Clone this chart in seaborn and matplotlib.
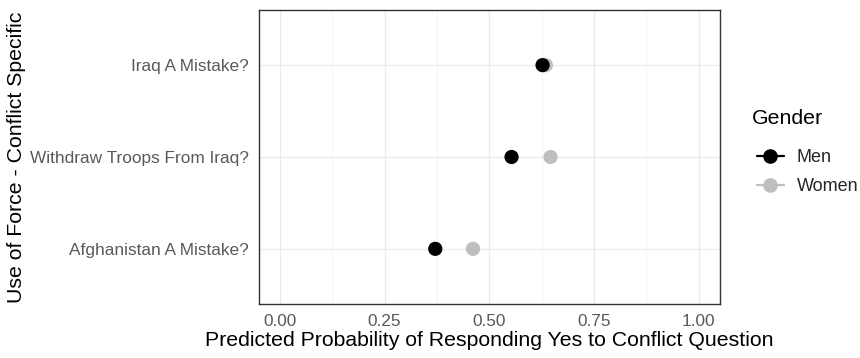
import matplotlib
matplotlib.use("Agg")
import matplotlib.pyplot as plt
import seaborn as sns
import pandas as pd
from matplotlib.lines import Line2D
from matplotlib.ticker import MultipleLocator

questions = ["Afghanistan A Mistake?", "Withdraw Troops From Iraq?", "Iraq A Mistake?"]
men = [0.371, 0.553, 0.627]
women = [0.461, 0.646, 0.635]
genders = ["Men", "Women"]
colors = {"Men": "#000000", "Women": "#BEBEBE"}
x_ticks = [0.0, 0.25, 0.5, 0.75, 1.0]
x_ticklabels = ["0.00", "0.25", "0.50", "0.75", "1.00"]

rows = []
for q, m, w in zip(questions, men, women):
    rows.append({"question": q, "gender": "Women", "prob": w})
for q, m, w in zip(questions, men, women):
    rows.append({"question": q, "gender": "Men", "prob": m})
df = pd.DataFrame(rows)

sns.set_theme(style="white")
plt.rcParams['font.family'] = ['Liberation Sans', 'DejaVu Sans']

fig = plt.figure(figsize=(8.6, 3.58), dpi=100)
ax = fig.add_axes([0.301, 0.151, 0.536, 0.821])

pos = {q: i for i, q in enumerate(questions)}
df["ypos"] = df["question"].map(pos)

sns.scatterplot(data=df, x="prob", y="ypos", hue="gender", palette=colors,
                s=105, edgecolor="none", ax=ax, legend=False, zorder=3)

ax.set_xlim(-0.05, 1.05)
ax.set_ylim(-0.6, 2.6)
ax.set_xticks(x_ticks)
ax.set_xticklabels(x_ticklabels)
ax.xaxis.set_minor_locator(MultipleLocator(0.125))
ax.set_yticks(range(len(questions)))
ax.set_yticklabels(questions)

ax.grid(True, which="major", color="#EBEBEB", linewidth=1.0, zorder=0)
ax.grid(True, which="minor", axis="x", color="#F3F3F3", linewidth=0.6, zorder=0)
ax.set_axisbelow(True)
for sp in ax.spines.values():
    sp.set_color("#333333")
    sp.set_linewidth(1.0)

ax.tick_params(axis="both", which="major", length=4, color="#333333",
               labelsize=12.4, labelcolor="#5A5A5A", direction="out", width=0.8)
ax.tick_params(axis="x", which="minor", length=0)
ax.tick_params(axis="x", pad=3)
ax.tick_params(axis="y", pad=3)

ax.set_xlabel("Predicted Probability of Responding Yes to Conflict Question",
              fontsize=15.3, color="#000000", labelpad=2)
ax.set_ylabel("Use of Force - Conflict Specific", fontsize=15.3, color="#000000",
              labelpad=3)

fig.text(752 / 860, 1 - 118 / 358, "Gender", fontsize=15.3, color="#000000",
         ha="left", va="center")
handles = [Line2D([0], [0], color=colors[g], marker="o", markersize=9.5,
                  linestyle="-", linewidth=1.6) for g in genders]
leg = fig.legend(handles, genders, loc="center left",
                 bbox_to_anchor=(0.880, 1 - 172 / 358), frameon=False, fontsize=13,
                 handlelength=1.5, labelspacing=0.67, handletextpad=0.7,
                 borderaxespad=0, borderpad=0)

fig.savefig("out.png", dpi=100)
